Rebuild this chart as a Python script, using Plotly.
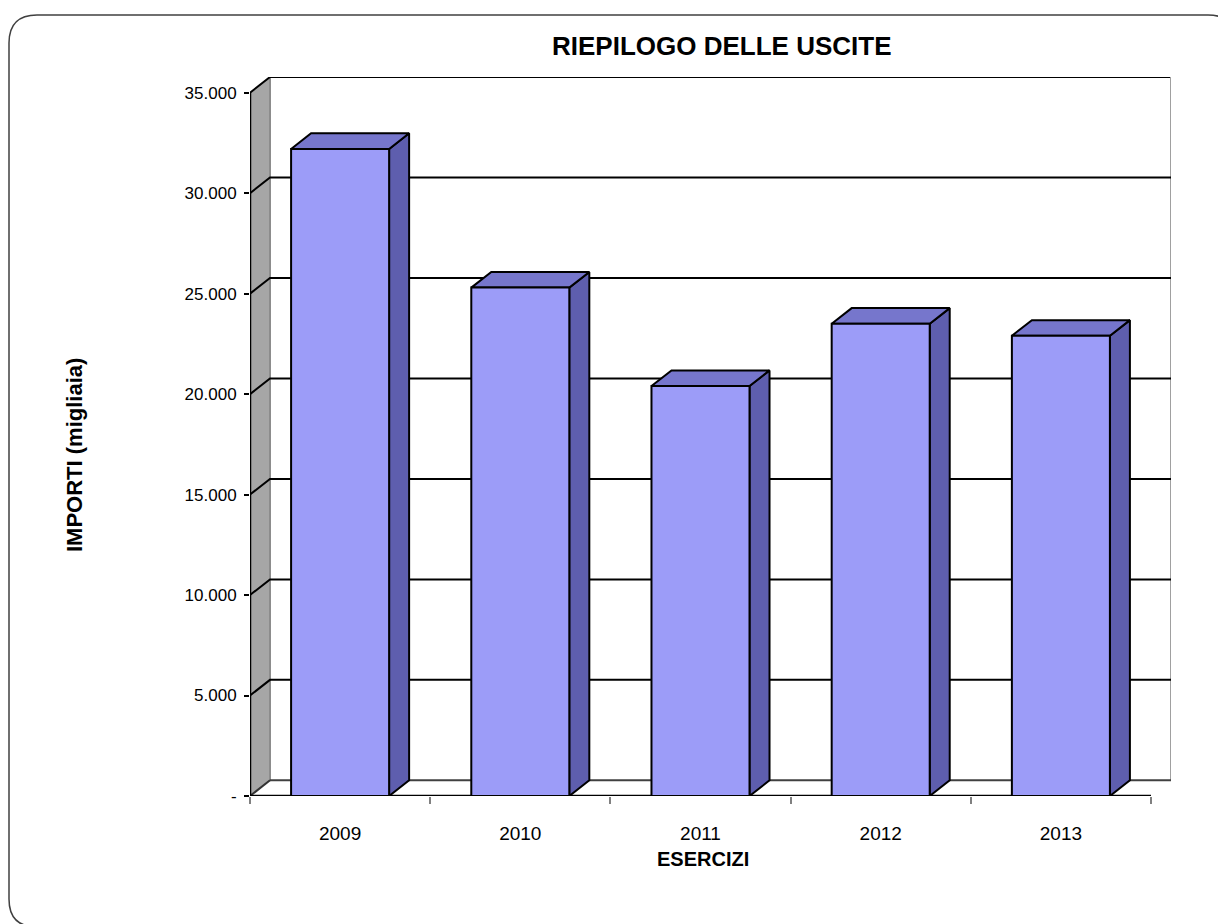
import plotly.graph_objects as go

# dati
anni = ["2009", "2010", "2011", "2012", "2013"]
uscite = [32200, 25300, 20400, 23500, 22900]
tick_valori = [0, 5000, 10000, 15000, 20000, 25000, 30000, 35000]
tick_testi = ["-", "5.000", "10.000", "15.000", "20.000", "25.000", "30.000", "35.000"]

W, H = 1226, 924
OFF = 8  # margine della pagina html
L, R, T, B = 250 - OFF, 1226 - (1171 - OFF), 77 - OFF, 924 - (796 - OFF)
DX = 0.111   # profondita' 3D (unita' categoria)
DY = 780     # profondita' 3D (unita' asse y)
YMAX = 35000
MEZZA = 0.272
FONT = "Liberation Sans, Arial, sans-serif"

fig = go.Figure()


def poligono(xs, ys, fill=None, line="black", lw=2):
    fig.add_trace(go.Scatter(
        x=xs, y=ys, mode="lines", fill="toself" if fill else "none",
        fillcolor=fill, line=dict(color=line, width=lw),
        hoverinfo="skip", showlegend=False))


x0, x1 = -0.5, len(anni) - 0.5

# parete sinistra
poligono([x0, x0 + DX, x0 + DX, x0, x0], [0, DY, YMAX + DY, YMAX, 0], fill="#A6A6A6", line="#A6A6A6", lw=1)
poligono([x0 + DX, x0 + DX], [DY, YMAX + DY], line="#8C8C8C", lw=2)
poligono([x0, x0 + DX, x1 + DX], [YMAX, YMAX + DY, YMAX + DY], line="black", lw=2)
# parete di fondo
poligono([x1 + DX, x1 + DX], [DY, YMAX + DY], line="#A0A0A0", lw=2)
poligono([x0 + DX, x1 + DX], [DY, DY], line="#404040", lw=2)
# griglia
for v in tick_valori[1:-1]:
    poligono([x0, x0 + DX, x1 + DX], [v, v + DY, v + DY], line="black", lw=2)
# pavimento
poligono([x0, x0 + DX], [0, DY], line="#333333", lw=2)
poligono([x0, x1], [0, 0], line="black", lw=2.5)
poligono([x0, x0], [0, YMAX], line="black", lw=2.5)

# barre 3D
for i, v in enumerate(uscite):
    a, b = i - MEZZA, i + MEZZA
    poligono([b, b + DX, b + DX, b, b], [0, DY, v + DY, v, 0], fill="#5E5EAE")
    poligono([a, b, b + DX, a + DX, a], [v, v, v + DY, v + DY, v], fill="#7676CC")
    poligono([a, b, b, a, a], [0, 0, v, v, 0], fill="#9C9CF8")

# asse secondario solo per le tacche tra le categorie
fig.add_trace(go.Scatter(x=[None], y=[None], xaxis="x2", showlegend=False, hoverinfo="skip"))


def fx(px):
    return (px - OFF - L) / (W - L - R)


def fy(py):
    return (H - B - (py - OFF)) / (H - T - B)


fig.update_layout(
    width=W, height=H,
    margin=dict(l=L, r=R, t=T, b=B, pad=0),
    paper_bgcolor="white", plot_bgcolor="white",
    font=dict(family=FONT, color="black", size=17),
    showlegend=False,
    xaxis=dict(range=[x0, x1 + DX], tickvals=list(range(len(anni))), ticktext=anni,
               showgrid=False, zeroline=False, showline=False,
               ticks="outside", ticklen=20, tickcolor="rgba(0,0,0,0)",
               tickfont=dict(size=19), fixedrange=True),
    xaxis2=dict(range=[x0, x1 + DX], overlaying="x", anchor="y", side="bottom",
                tickvals=[x0 + k for k in range(len(anni) + 1)], showticklabels=False,
                ticks="outside", ticklen=7, tickwidth=2, tickcolor="#808080",
                showgrid=False, zeroline=False, showline=False),
    yaxis=dict(range=[0, YMAX + DY], tickvals=tick_valori, ticktext=tick_testi,
               showgrid=False, zeroline=False, showline=False,
               ticks="outside", ticklen=5, tickwidth=2, tickcolor="black",
               ticklabelstandoff=4,
               tickfont=dict(size=17), fixedrange=True),
)

fig.add_annotation(text="<b>RIEPILOGO DELLE USCITE</b>", x=fx(721), y=fy(46),
                   xanchor="center", yanchor="middle",
                   xref="paper", yref="paper", showarrow=False, font=dict(size=26))
fig.add_annotation(text="<b>IMPORTI (migliaia)</b>", x=fx(75), y=fy(455), textangle=-90,
                   xanchor="center", yanchor="middle",
                   xref="paper", yref="paper", showarrow=False, font=dict(size=22))
fig.add_annotation(text="<b>ESERCIZI</b>", x=fx(703), y=fy(859),
                   xanchor="center", yanchor="middle",
                   xref="paper", yref="paper", showarrow=False, font=dict(size=20))

# cornice arrotondata
bx0, by0, bx1, by1, rr = 9, 15, 1236, 927, 28
p = (f"M {fx(bx0 + rr)} {fy(by0)} L {fx(bx1 - rr)} {fy(by0)} "
     f"Q {fx(bx1)} {fy(by0)} {fx(bx1)} {fy(by0 + rr)} "
     f"L {fx(bx1)} {fy(by1 - rr)} Q {fx(bx1)} {fy(by1)} {fx(bx1 - rr)} {fy(by1)} "
     f"L {fx(bx0 + rr)} {fy(by1)} Q {fx(bx0)} {fy(by1)} {fx(bx0)} {fy(by1 - rr)} "
     f"L {fx(bx0)} {fy(by0 + rr)} Q {fx(bx0)} {fy(by0)} {fx(bx0 + rr)} {fy(by0)} Z")
fig.add_shape(type="path", path=p, xref="paper", yref="paper",
              line=dict(color="#404040", width=1.5), layer="above")

fig.write_html("out.html")
